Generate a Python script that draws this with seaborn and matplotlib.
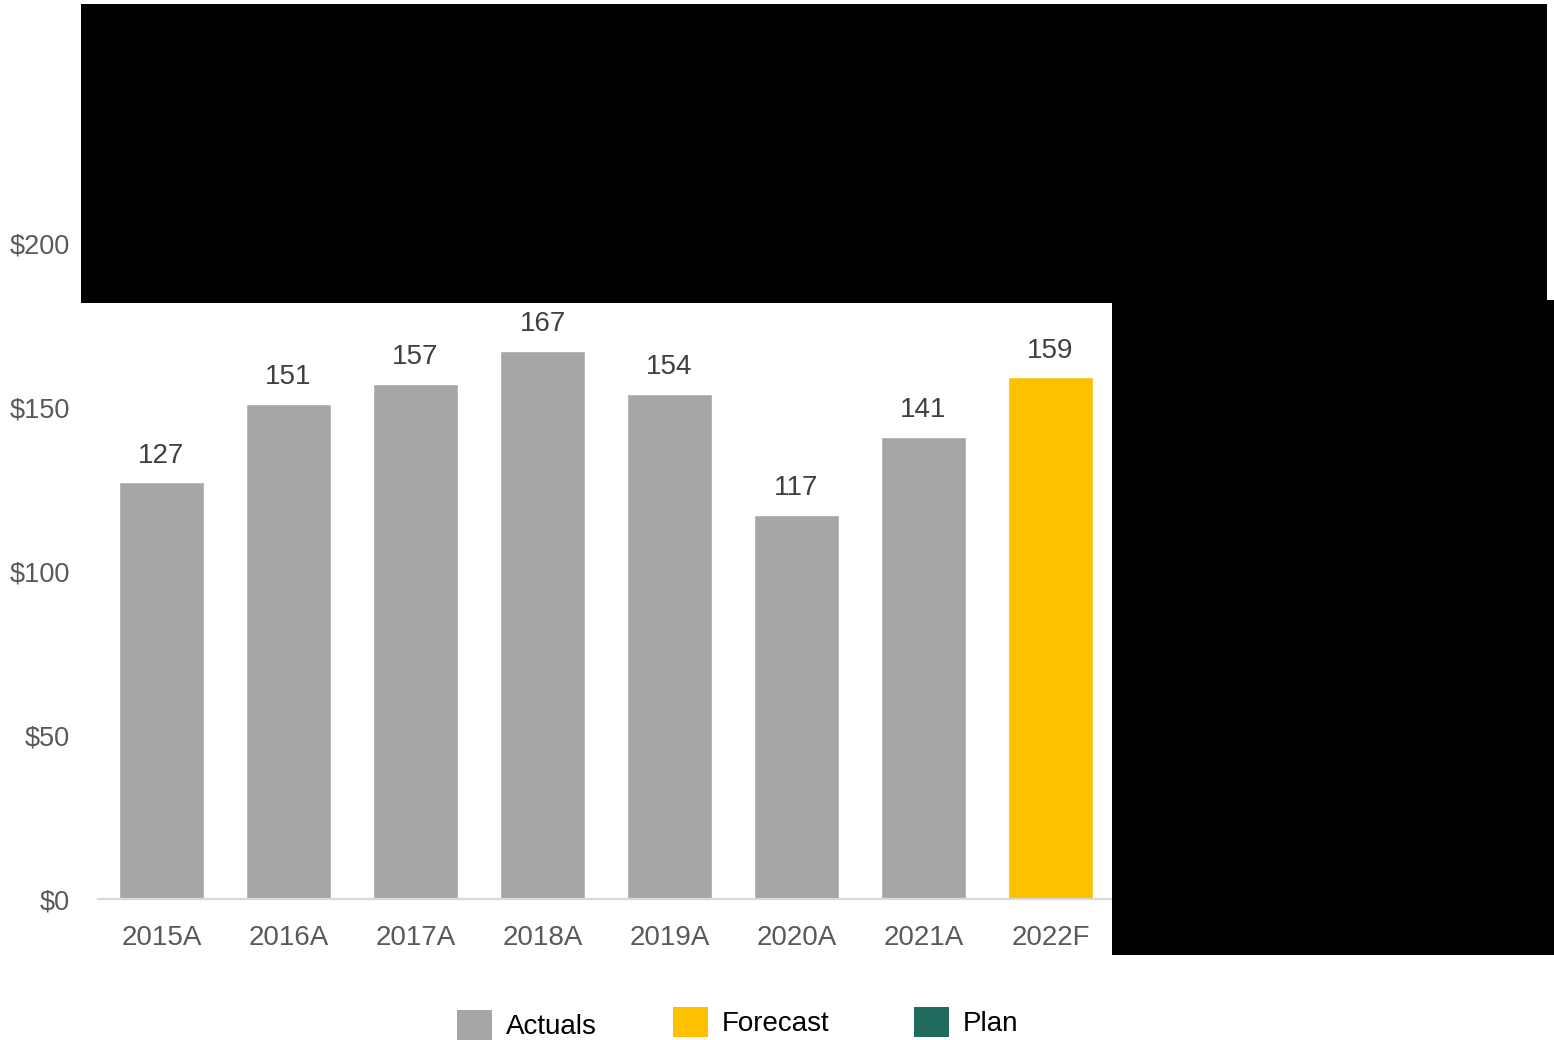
import matplotlib
matplotlib.use("Agg")
import matplotlib.pyplot as plt
from matplotlib.patches import Patch, Rectangle
import seaborn as sns
import pandas as pd

# Data
years = ["2015A", "2016A", "2017A", "2018A", "2019A", "2020A", "2021A", "2022F"]
values = [127, 151, 157, 167, 154, 117, 141, 159]
kinds = ["Actuals"] * 7 + ["Forecast"]
legend_labels = ["Actuals", "Forecast", "Plan"]
y_ticks = [0, 50, 100, 150, 200]
y_tick_labels = ["$0", "$50", "$100", "$150", "$200"]

colors = {"Actuals": "#a6a6a6", "Forecast": "#ffc000", "Plan": "#216b5e"}

sns.set_theme(style="white")
plt.rcParams["font.family"] = ["Liberation Sans Narrow", "Liberation Sans", "DejaVu Sans"]

W, H = 1554, 1040
fig = plt.figure(figsize=(W / 100, H / 100), dpi=100)
ax = fig.add_axes([98 / W, 1 - 899 / H, (1495 - 98) / W, (899 - 243) / H])

df = pd.DataFrame({"year": years, "value": values, "kind": kinds})
sns.barplot(data=df, x="year", y="value", hue="kind", palette=colors,
            dodge=False, width=0.67, ax=ax, legend=False, saturation=1)

for cont in ax.containers:
    ax.bar_label(cont, fmt="%d", padding=10, fontsize=20, color="#404040")

ax.set_xlim(-0.5, 10.5)
ax.set_ylim(0, 200)
ax.set_yticks(y_ticks)
ax.set_yticklabels(y_tick_labels)
ax.set_xlabel("")
ax.set_ylabel("")
ax.tick_params(axis="y", length=0, pad=20, labelsize=19.5, labelcolor="#595959")
ax.tick_params(axis="x", length=0, pad=19, labelsize=20, labelcolor="#595959")
for side in ["top", "right", "left"]:
    ax.spines[side].set_visible(False)
ax.spines["bottom"].set_color("#d9d9d9")
ax.spines["bottom"].set_linewidth(1.6)
ax.grid(False)

# Legend entries placed individually along the bottom
legend_x = [457, 673, 914]
legend_y = [1025, 1022, 1022]
for lab, lx, ly in zip(legend_labels, legend_x, legend_y):
    fig.legend([Patch(facecolor=colors[lab], edgecolor="none")], [lab],
               loc="center left", bbox_to_anchor=(lx / W, 1 - ly / H),
               frameon=False, fontsize=20, handlelength=1.26, handleheight=1.3,
               handletextpad=0.5, borderpad=0, borderaxespad=0, labelcolor="black")

# Redacted regions
fig.add_artist(Rectangle((81 / W, 1 - 303 / H), (1547 - 81) / W, (303 - 4) / H,
                         transform=fig.transFigure, facecolor="black", edgecolor="none", zorder=10))
fig.add_artist(Rectangle((1112 / W, 1 - 955 / H), (W - 1112) / W, (955 - 300) / H,
                         transform=fig.transFigure, facecolor="black", edgecolor="none", zorder=10))

fig.savefig("out.png", dpi=100)
